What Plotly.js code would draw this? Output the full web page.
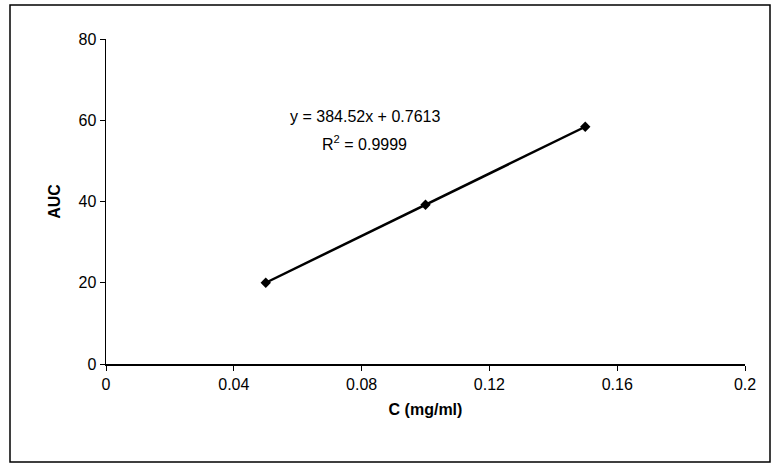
<!DOCTYPE html>
<html><head><script src="https://cdn.plot.ly/plotly-3.0.1.min.js"></script>
<style>body{margin:0}#c{width:775px;height:468px}</style></head>
<body><div id="c"></div><script>
const conc=[0.05,0.1,0.15];
const auc=[20.0,39.2,58.4];
const xTicks=[0,0.04,0.08,0.12,0.16,0.2];
const xLabels=['0','0.04','0.08','0.12','0.16','0.2'];
const pw=639, ph=325, L=106, T=39;
function px(x){return (x-L)/pw;} function py(y){return 1-(y-T)/ph;}
Plotly.newPlot('c',[{x:conc,y:auc,mode:'lines+markers',line:{color:'black',width:2.5},
marker:{symbol:'diamond',size:8,color:'black'}}],{
width:775,height:468,margin:{l:106,r:30,t:39,b:104},showlegend:false,
paper_bgcolor:'white',plot_bgcolor:'white',font:{family:'Liberation Sans, Arial',size:16,color:'black'},
xaxis:{range:[0,0.2],tickvals:xTicks,ticktext:xLabels,showgrid:false,zeroline:false,showline:true,linecolor:'black',linewidth:1.5,ticks:'outside',ticklen:5,tickcolor:'black',
title:{text:'<b>C (mg/ml)</b>',font:{size:16},standoff:12}},
yaxis:{range:[0,80],tickvals:[0,20,40,60,80],showgrid:false,zeroline:false,showline:true,linecolor:'black',linewidth:1.5,ticks:'outside',ticklen:5,tickcolor:'black',
title:{text:'<b>AUC</b>',font:{size:16},standoff:14}},
annotations:[{x:0.081,y:61,xref:'x',yref:'y',text:'y = 384.52x + 0.7613',showarrow:false,font:{size:16}},
{x:0.081,y:54.5,xref:'x',yref:'y',text:'R<sup>2</sup> = 0.9999',showarrow:false,font:{size:16}}],
shapes:[{type:'rect',xref:'paper',yref:'paper',x0:px(10),x1:px(770),y0:py(462),y1:py(5),line:{color:'black',width:1.5}}]
},{staticPlot:true});
</script></body></html>
